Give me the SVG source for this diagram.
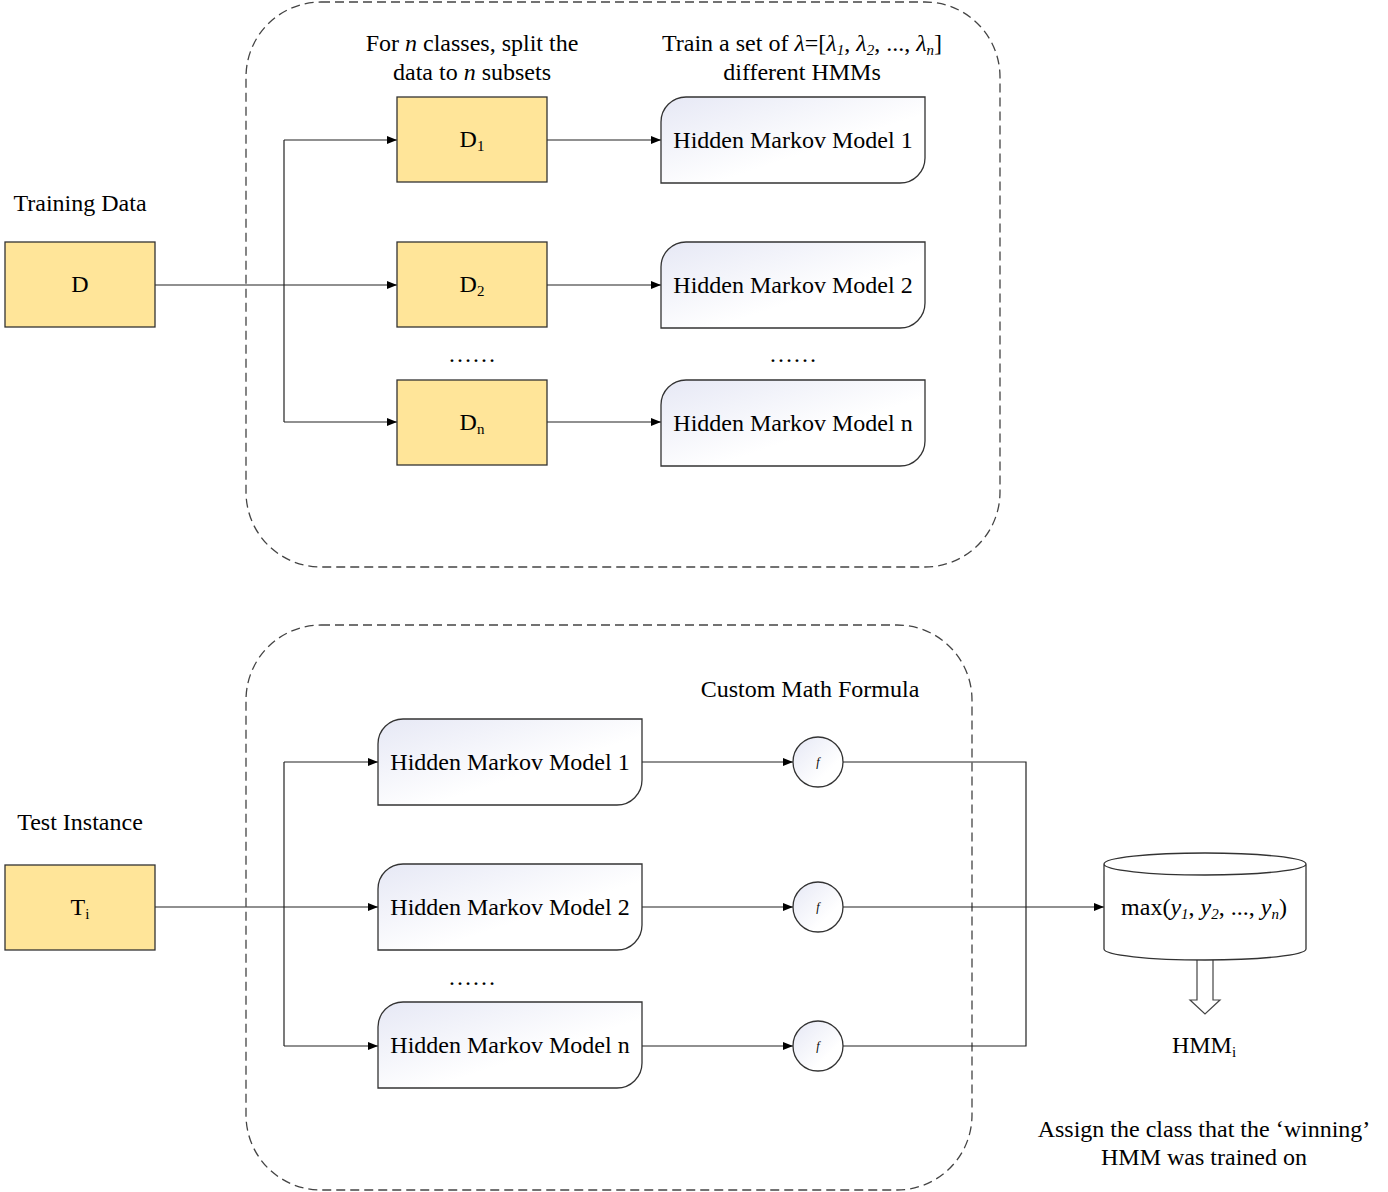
<svg xmlns="http://www.w3.org/2000/svg" width="1388" height="1192" viewBox="0 0 1388 1192">
  <defs>
    <style>
      text { font-family: "Liberation Serif", "Times New Roman", serif; font-size: 24px; fill: #000; }
      .c { text-anchor: middle; }
      .it { font-style: italic; }
      .sub { font-size: 15px; }
      .fx { font-size: 12px; font-style: italic; }
      .data { fill: #FFE599; stroke: #333; stroke-width: 1.3; }
      .hmm { fill: url(#hmmFill); stroke: #333; stroke-width: 1.3; }
      .fn { fill: url(#fnFill); stroke: #333; stroke-width: 1.3; }
      .group { fill: none; stroke: #444; stroke-width: 1.3; stroke-dasharray: 9 5; }
      .wire { fill: none; stroke: #222; stroke-width: 1.2; }
      .arr { marker-end: url(#head); }
    </style>
    <linearGradient id="hmmFill" x1="0" y1="0" x2="1" y2="1">
      <stop offset="0" stop-color="#E6E8F5"/>
      <stop offset="0.6" stop-color="#FFFFFF"/>
    </linearGradient>
    <linearGradient id="fnFill" x1="0" y1="0" x2="1" y2="1">
      <stop offset="0" stop-color="#E6E8F5"/>
      <stop offset="0.7" stop-color="#FFFFFF"/>
    </linearGradient>
    <marker id="head" viewBox="0 0 10 8" refX="10" refY="4" markerWidth="10" markerHeight="8" markerUnits="userSpaceOnUse" orient="auto">
      <path d="M0,0 L10,4 L0,8 Z" fill="#000"/>
    </marker>
    <!-- HMM box: rounded top-left and bottom-right corners, 264 x 86 -->
    <path id="hmmShape" d="M25,0 H264 V61 A25,25 0 0 1 239,86 H0 V25 A25,25 0 0 1 25,0 Z"/>
  </defs>

  <!-- grouping frames -->
  <rect class="group" x="246" y="2" width="754" height="565" rx="75" ry="75"/>
  <rect class="group" x="246" y="625" width="726" height="565" rx="75" ry="75"/>

  <!-- labels -->
  <text class="c" x="80" y="211">Training Data</text>
  <text class="c" x="472" y="51">For <tspan class="it">n</tspan> classes, split the</text>
  <text class="c" x="472" y="80">data to <tspan class="it">n</tspan> subsets</text>
  <text class="c" x="802" y="51">Train a set of <tspan class="it">λ</tspan>=[<tspan class="it">λ</tspan><tspan class="it sub" dy="4">1</tspan><tspan dy="-4">, </tspan><tspan class="it">λ</tspan><tspan class="it sub" dy="4">2</tspan><tspan dy="-4">,  ..., </tspan><tspan class="it">λ</tspan><tspan class="it sub" dy="4">n</tspan><tspan dy="-4">]</tspan></text>
  <text class="c" x="802" y="80">different HMMs</text>
  <text class="c" x="472" y="362">……</text>
  <text class="c" x="793" y="362">……</text>
  <text class="c" x="80" y="830">Test Instance</text>
  <text class="c" x="810" y="697">Custom Math Formula</text>
  <text class="c" x="472" y="985">……</text>
  <text class="c" x="1204" y="1137">Assign the class that the ‘winning’</text>
  <text class="c" x="1204" y="1165">HMM was trained on</text>

  <!-- connectors -->
  <g id="connectors">
    <path class="wire arr" d="M155,285 H397"/>
    <path class="wire" d="M284,140 V422"/>
    <path class="wire arr" d="M284,140 H397"/>
    <path class="wire arr" d="M284,422 H397"/>
    <path class="wire arr" d="M547,140 H661"/>
    <path class="wire arr" d="M547,285 H661"/>
    <path class="wire arr" d="M547,422 H661"/>

    <path class="wire arr" d="M155,907 H378"/>
    <path class="wire" d="M284,762 V1046"/>
    <path class="wire arr" d="M284,762 H378"/>
    <path class="wire arr" d="M284,1046 H378"/>
    <path class="wire arr" d="M642,762 H793"/>
    <path class="wire arr" d="M642,907 H793"/>
    <path class="wire arr" d="M642,1046 H793"/>
    <path class="wire" d="M843,762 H1026 V1046 H843"/>
    <path class="wire arr" d="M843,907 H1104"/>
    <!-- hollow block arrow from max to result -->
    <path d="M1197,960 V1000 H1190 L1205,1014 L1220,1000 H1213 V960" fill="#fff" stroke="#444" stroke-width="1.2"/>
  </g>

  <!-- training side -->
  <g id="node-D">
    <rect class="data" x="5" y="242" width="150" height="85"/>
    <text class="c" x="80" y="292">D</text>
  </g>
  <g id="node-D1">
    <rect class="data" x="397" y="97" width="150" height="85"/>
    <text class="c" x="472" y="147">D<tspan class="sub" dy="4">1</tspan></text>
  </g>
  <g id="node-D2">
    <rect class="data" x="397" y="242" width="150" height="85"/>
    <text class="c" x="472" y="292">D<tspan class="sub" dy="4">2</tspan></text>
  </g>
  <g id="node-Dn">
    <rect class="data" x="397" y="380" width="150" height="85"/>
    <text class="c" x="472" y="430">D<tspan class="sub" dy="4">n</tspan></text>
  </g>
  <g id="node-train-hmm1">
    <use href="#hmmShape" class="hmm" x="661" y="97"/>
    <text class="c" x="793" y="148">Hidden Markov Model 1</text>
  </g>
  <g id="node-train-hmm2">
    <use href="#hmmShape" class="hmm" x="661" y="242"/>
    <text class="c" x="793" y="293">Hidden Markov Model 2</text>
  </g>
  <g id="node-train-hmmn">
    <use href="#hmmShape" class="hmm" x="661" y="380"/>
    <text class="c" x="793" y="431">Hidden Markov Model n</text>
  </g>

  <!-- testing side -->
  <g id="node-Ti">
    <rect class="data" x="5" y="865" width="150" height="85"/>
    <text class="c" x="80" y="915">T<tspan class="sub" dy="4">i</tspan></text>
  </g>
  <g id="node-test-hmm1">
    <use href="#hmmShape" class="hmm" x="378" y="719"/>
    <text class="c" x="510" y="770">Hidden Markov Model 1</text>
  </g>
  <g id="node-test-hmm2">
    <use href="#hmmShape" class="hmm" x="378" y="864"/>
    <text class="c" x="510" y="915">Hidden Markov Model 2</text>
  </g>
  <g id="node-test-hmmn">
    <use href="#hmmShape" class="hmm" x="378" y="1002"/>
    <text class="c" x="510" y="1053">Hidden Markov Model n</text>
  </g>
  <g id="node-f1">
    <circle class="fn" cx="818" cy="762" r="25"/>
    <text class="c fx" x="818" y="766">f</text>
  </g>
  <g id="node-f2">
    <circle class="fn" cx="818" cy="907" r="25"/>
    <text class="c fx" x="818" y="911">f</text>
  </g>
  <g id="node-fn">
    <circle class="fn" cx="818" cy="1046" r="25"/>
    <text class="c fx" x="818" y="1050">f</text>
  </g>
  <g id="node-max">
    <path d="M1104,864 V949 A101,11 0 0 0 1306,949 V864 A101,11 0 0 0 1104,864 A101,11 0 0 0 1306,864" fill="#fff" stroke="#333" stroke-width="1.3"/>
    <text class="c" x="1204" y="915">max(<tspan class="it">y</tspan><tspan class="it sub" dy="4">1</tspan><tspan dy="-4">, </tspan><tspan class="it">y</tspan><tspan class="it sub" dy="4">2</tspan><tspan dy="-4">,  ..., </tspan><tspan class="it">y</tspan><tspan class="it sub" dy="4">n</tspan><tspan dy="-4">)</tspan></text>
  </g>
  <g id="node-result">
    <text class="c" x="1204" y="1053">HMM<tspan class="sub" dy="4">i</tspan></text>
  </g>
</svg>
